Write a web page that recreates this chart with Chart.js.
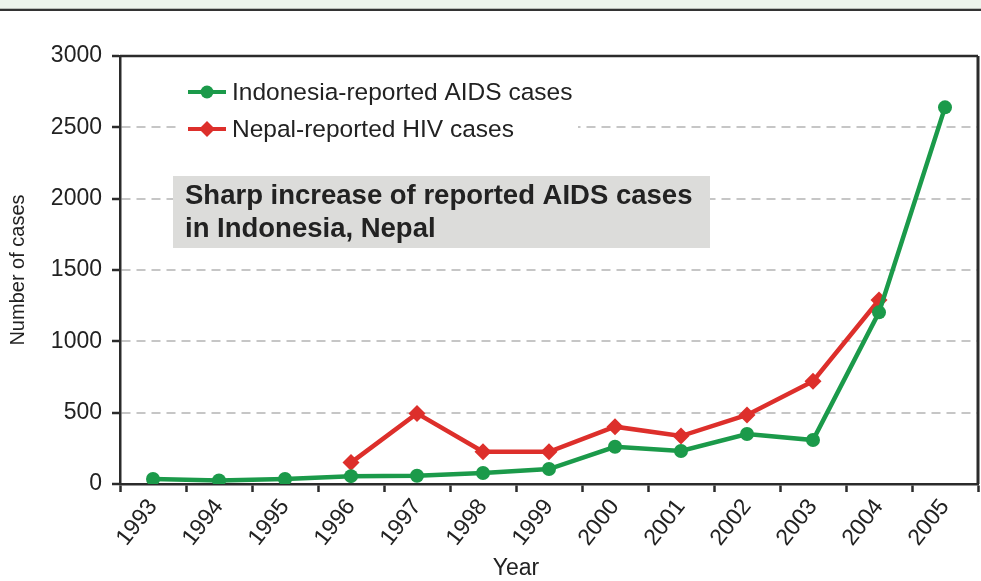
<!DOCTYPE html>
<html>
<head>
<meta charset="utf-8">
<script src="https://cdn.jsdelivr.net/npm/chart.js@4.4.1/dist/chart.umd.min.js"></script>
<style>
  html, body { margin: 0; padding: 0; background: #ffffff; }
  #wrap { position: relative; width: 981px; height: 581px; }
</style>
</head>
<body>
<div id="wrap"><canvas id="cases" width="981" height="581"></canvas></div>
<script>
// Reported cases per year
const years = ['1993', '1994', '1995', '1996', '1997', '1998', '1999',
               '2000', '2001', '2002', '2003', '2004', '2005'];
const indonesiaAids = [35, 25, 35, 55, 58, 77, 105, 261, 231, 350, 308, 1203, 2640];
const nepalHiv = [null, null, null, 150, 495, 226, 226, 402, 336, 484, 720, 1290, null];
const yTicks = [0, 500, 1000, 1500, 2000, 2500, 3000];

const seriesNames = ['Indonesia-reported AIDS cases', 'Nepal-reported HIV cases'];
const noteLines = ['Sharp increase of reported AIDS cases', 'in Indonesia, Nepal'];
const xTitle = 'Year';
const yTitle = 'Number of cases';

const GREEN = '#1b9a4a';
const RED = '#dd2f2b';
const AXIS = '#2b2b2b';
const GRID = '#c6c6c6';
const TEXT = '#222222';
const FONT = '"Liberation Sans", Arial, Helvetica, sans-serif';

Chart.defaults.font.family = FONT;
Chart.defaults.color = TEXT;

function drawMarker(ctx, style, x, y, r, color) {
  ctx.save();
  ctx.fillStyle = color;
  ctx.beginPath();
  if (style === 'rectRot') {
    ctx.moveTo(x, y - r);
    ctx.lineTo(x + r, y);
    ctx.lineTo(x, y + r);
    ctx.lineTo(x - r, y);
    ctx.closePath();
  } else {
    ctx.arc(x, y, r, 0, Math.PI * 2);
  }
  ctx.fill();
  ctx.restore();
}

// Page band, plot frame, in-plot legend, note box and x-axis title
const decor = {
  id: 'decor',
  beforeDraw(chart) {
    const ctx = chart.ctx;
    ctx.save();
    ctx.fillStyle = '#edf4ec';
    ctx.fillRect(0, 0, chart.width, 8);
    ctx.fillStyle = '#b9bdb8';
    ctx.fillRect(0, 8, chart.width, 1);
    ctx.fillStyle = '#333333';
    ctx.fillRect(0, 9, chart.width, 2);
    ctx.restore();
  },
  beforeDatasetsDraw(chart) {
    const ctx = chart.ctx;
    const a = chart.chartArea;
    ctx.save();
    // top and right frame lines
    ctx.strokeStyle = AXIS;
    ctx.lineWidth = 2.5;
    ctx.beginPath();
    ctx.moveTo(a.left, a.top);
    ctx.lineTo(a.right, a.top);
    ctx.stroke();
    ctx.lineWidth = 3;
    ctx.beginPath();
    ctx.moveTo(a.right, a.top);
    ctx.lineTo(a.right, a.bottom);
    ctx.stroke();

    // legend
    ctx.fillStyle = '#ffffff';
    ctx.fillRect(176, 70, 402, 78);
    const rows = [92, 129];
    chart.data.datasets.forEach((ds, i) => {
      const y = rows[i];
      ctx.strokeStyle = ds.borderColor;
      ctx.lineWidth = 4;
      ctx.beginPath();
      ctx.moveTo(188, y);
      ctx.lineTo(226, y);
      ctx.stroke();
      drawMarker(ctx, ds.pointStyle, 207, y, ds.pointStyle === 'rectRot' ? 8 : 6.5, ds.borderColor);
      ctx.fillStyle = TEXT;
      ctx.font = '24.5px ' + FONT;
      ctx.textAlign = 'left';
      ctx.textBaseline = 'middle';
      ctx.fillText(ds.label, 232, y + 1);
    });

    // note box
    ctx.fillStyle = '#dcdcda';
    ctx.fillRect(173, 176, 537, 72);
    ctx.fillStyle = TEXT;
    ctx.font = 'bold 27.5px ' + FONT;
    ctx.textAlign = 'left';
    ctx.textBaseline = 'middle';
    ctx.fillText(noteLines[0], 185, 196);
    ctx.fillText(noteLines[1], 185, 229);

    // x-axis title
    ctx.font = '23px ' + FONT;
    ctx.textAlign = 'center';
    ctx.fillText(xTitle, 516, 569);
    ctx.restore();
  }
};

new Chart(document.getElementById('cases'), {
  type: 'line',
  data: {
    labels: years,
    datasets: [
      {
        label: seriesNames[0],
        data: indonesiaAids,
        borderColor: GREEN,
        backgroundColor: GREEN,
        pointBackgroundColor: GREEN,
        borderWidth: 4.5,
        pointStyle: 'circle',
        pointRadius: 7,
        pointBorderWidth: 0,
        tension: 0
      },
      {
        label: seriesNames[1],
        data: nepalHiv,
        borderColor: RED,
        backgroundColor: RED,
        pointBackgroundColor: RED,
        borderWidth: 4.5,
        pointStyle: 'rectRot',
        pointRadius: 8.5,
        pointBorderWidth: 0,
        tension: 0
      }
    ]
  },
  options: {
    responsive: false,
    animation: false,
    devicePixelRatio: 1,
    layout: { autoPadding: false, padding: { top: 56, right: 3, left: 0, bottom: 0 } },
    plugins: {
      legend: { display: false },
      tooltip: { enabled: false }
    },
    scales: {
      x: {
        offset: true,
        grid: {
          offset: true,
          drawOnChartArea: false,
          color: 'rgba(0,0,0,0)',
          tickColor: AXIS,
          tickLength: 8,
          tickWidth: 2.5
        },
        border: { color: AXIS, width: 2.5 },
        ticks: {
          font: { size: 23 },
          color: TEXT,
          minRotation: 52,
          maxRotation: 52,
          padding: 2,
          autoSkip: false
        },
        afterFit(scale) {
          scale.height = 97;
          scale.paddingLeft = 0;
          scale.paddingRight = 0;
        }
      },
      y: {
        min: yTicks[0],
        max: yTicks[yTicks.length - 1],
        afterBuildTicks(scale) { scale.ticks = yTicks.map(v => ({ value: v })); },
        ticks: {
          font: { size: 23 },
          color: TEXT,
          padding: 10,
          callback: v => String(v)
        },
        grid: {
          color: c => (c.tick && (c.tick.value === yTicks[0] || c.tick.value === yTicks[yTicks.length - 1])) ? 'rgba(0,0,0,0)' : GRID,
          lineWidth: 2,
          tickColor: AXIS,
          tickLength: 8,
          tickWidth: 2.5,
          tickBorderDash: []
        },
        border: { color: AXIS, width: 2.5, dash: [9, 6] },
        title: {
          display: true,
          text: yTitle,
          font: { size: 20 },
          color: TEXT,
          padding: { top: 6, bottom: 0 }
        },
        afterFit(scale) {
          scale.width = 120;
          scale.paddingTop = 0;
          scale.paddingBottom = 0;
        }
      }
    }
  },
  plugins: [decor]
});
</script>
</body>
</html>
